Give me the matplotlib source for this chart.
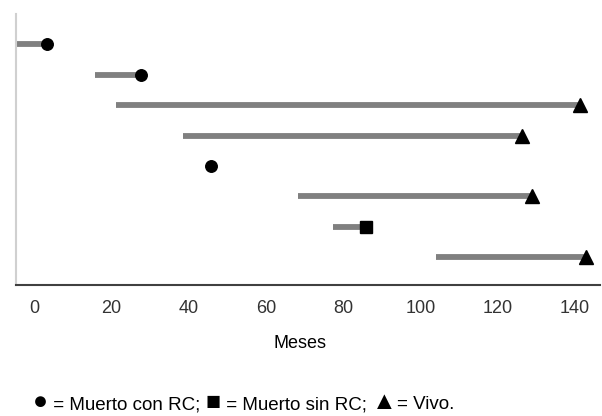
import matplotlib
matplotlib.use("Agg")
from matplotlib import pyplot as plt

plt.rcParams['font.family'] = ['Liberation Sans', 'DejaVu Sans']

# one row per patient, top to bottom
row_pos = [8, 7, 6, 5, 4, 3, 2, 1]
bar_start = [-4.7, 15.8, 21.2, 38.6, 45.8, 68.4, 77.3, 104.1]
bar_end = [3.4, 27.7, 141.3, 126.2, 45.8, 128.9, 86.0, 142.8]
status = ["muerto_rc", "muerto_rc", "vivo", "vivo", "muerto_rc", "vivo", "muerto_sin_rc", "vivo"]

markers = {"muerto_rc": "o", "muerto_sin_rc": "s", "vivo": "^"}
sizes = {"muerto_rc": 8.3, "muerto_sin_rc": 8.6, "vivo": 9.8}

xticks = [0, 20, 40, 60, 80, 100, 120, 140]

fig = plt.figure(figsize=(6.02, 4.16), dpi=100)
ax = fig.add_axes([16 / 602, 1 - 285 / 416, 600 / 602 - 16 / 602, (285 - 14) / 416])

for y, s, e, st in zip(row_pos, bar_start, bar_end, status):
    if e > s:
        ax.plot([s, e], [y, y], color='#808080', linewidth=4.2, solid_capstyle='butt', zorder=2)
    ax.plot(e, y, marker=markers[st], color='black', markersize=sizes[st],
            linestyle='none', zorder=3, clip_on=False)

ax.set_xlim(-4.66, 146.5)
ax.set_ylim(0.08, 9.0)
ax.set_xticks(xticks)
ax.set_yticks([])
ax.tick_params(axis='x', length=0, pad=11, labelsize=13, labelcolor='#333333')

ax.spines['top'].set_visible(False)
ax.spines['right'].set_visible(False)
ax.spines['left'].set_color('#d0d0d0')
ax.spines['left'].set_linewidth(1.5)
ax.spines['bottom'].set_color('#404040')
ax.spines['bottom'].set_linewidth(1.5)

fig.text(300 / 602, 1 - 344 / 416, "Meses", ha='center', va='center', fontsize=13)

# legend line built from pieces so the symbols can be larger than the words
pieces = [("\u25CF", 18), (" = Muerto con RC; ", 13.5), ("\u25A0", 18),
          (" = Muerto sin RC; ", 13.5), ("\u25B2", 18), ("= Vivo.", 13.5)]
renderer = fig.canvas.get_renderer()
x = 33 / 602
for txt, fs in pieces:
    t = fig.text(x, 1 - 409 / 416, txt, ha='left', va='baseline', fontsize=fs)
    bb = t.get_window_extent(renderer=renderer)
    x += bb.width / fig.bbox.width

fig.savefig("out.png", dpi=100)
